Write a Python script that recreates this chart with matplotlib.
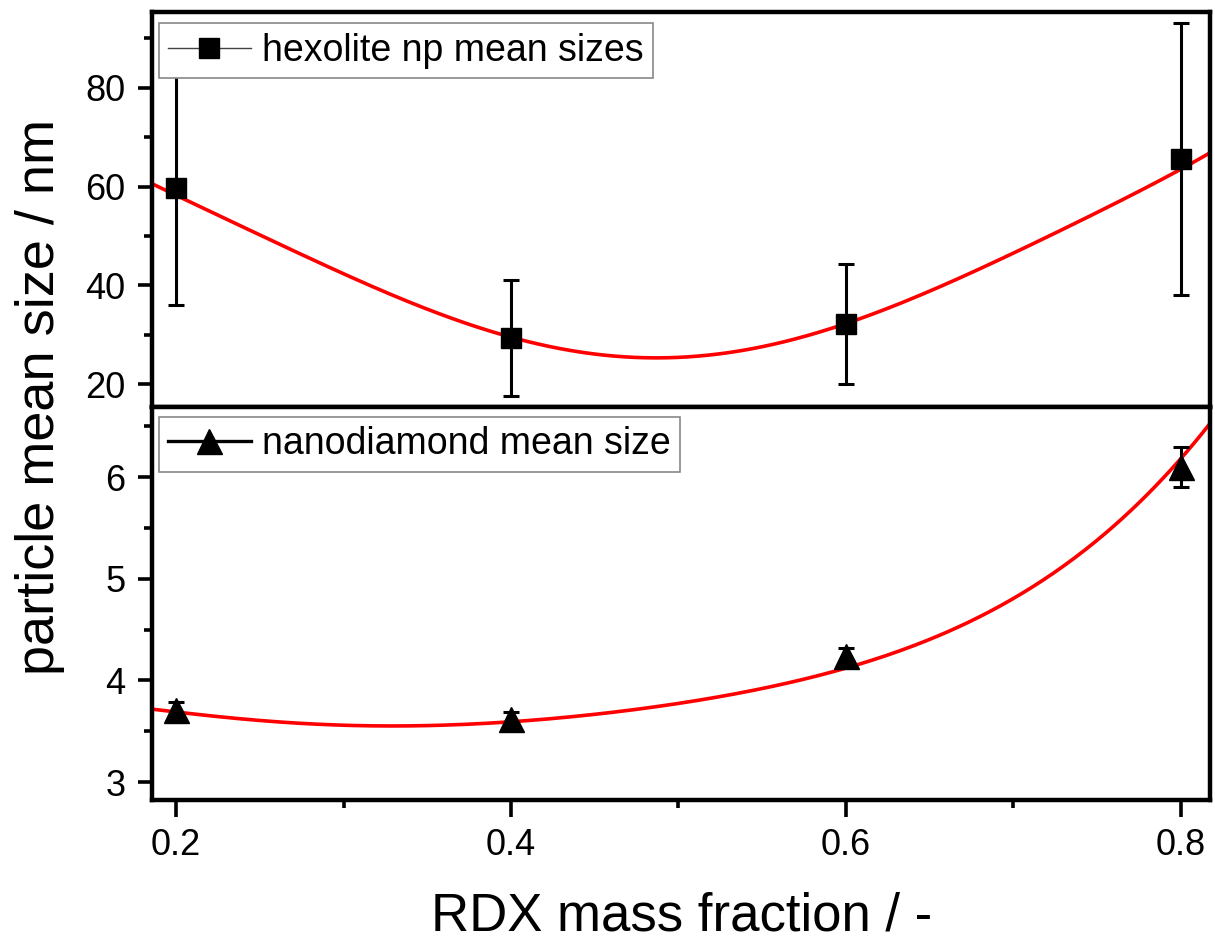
import numpy as np
import matplotlib
matplotlib.use("Agg")
import matplotlib.pyplot as plt
from matplotlib.lines import Line2D

plt.rcParams['font.family'] = ['Liberation Sans', 'DejaVu Sans']

# data
rdx = [0.2, 0.4, 0.6, 0.8]
hex_size = [59.8, 29.4, 32.2, 65.6]
hex_err = [23.8, 11.7, 12.2, 27.5]
nd_size = [3.71, 3.62, 4.24, 6.10]
nd_err = [0.08, 0.07, 0.08, 0.20]

# fitted curves
fit_x = [0.1857, 0.2, 0.225, 0.2657, 0.306, 0.347, 0.3875, 0.4, 0.428, 0.4825,
         0.529, 0.5695, 0.6025, 0.630, 0.671, 0.7117, 0.752, 0.793, 0.8, 0.8173]
hex_fit = [60.6, 58.3, 54.1, 47.6, 41.6, 35.8, 30.8, 29.4, 27.05, 25.35,
           26.4, 29.4, 32.4, 36.2, 41.9, 48.3, 55.1, 62.2, 63.9, 66.6]
nd_fit_x = [0.1857, 0.2, 0.2455, 0.306, 0.3467, 0.4, 0.448, 0.509, 0.5698,
            0.6, 0.630, 0.671, 0.7117, 0.752, 0.793, 0.8, 0.8173]
nd_fit = [3.72, 3.687, 3.605, 3.566, 3.556, 3.588, 3.655, 3.80, 4.0,
          4.13, 4.26, 4.56, 4.92, 5.41, 6.04, 6.2, 6.52]

top_label = "hexolite np mean sizes"
bot_label = "nanodiamond mean size"
xlabel = "RDX mass fraction / -"
ylabel = "particle mean size / nm"

fig = plt.figure(figsize=(12.15, 9.41), dpi=100)
L, R = 0.125, 0.996
ax_top = fig.add_axes([L, 0.5675, R - L, 0.4195])
ax_bot = fig.add_axes([L, 0.1495, R - L, 0.418], sharex=ax_top)

xlim = (0.1855, 0.8175)
xf = np.linspace(xlim[0], xlim[1], 400)

# top panel
c_top = np.polyfit(fit_x, hex_fit, 6)
ax_top.plot(xf, np.polyval(c_top, xf), color='#ff0000', lw=2.6, zorder=2)
ax_top.errorbar(rdx, hex_size, yerr=hex_err, fmt='s', color='black', ms=14,
                ecolor='black', elinewidth=2.2, capsize=6, capthick=2.2, zorder=3)
ax_top.set_ylim(15.4, 95.3)
ax_top.set_yticks([20, 40, 60, 80])
ax_top.set_yticks([30, 50, 70, 90], minor=True)

# bottom panel
c_bot = np.polyfit(nd_fit_x, nd_fit, 6)
ax_bot.plot(xf, np.polyval(c_bot, xf), color='#ff0000', lw=2.6, zorder=2)
ax_bot.errorbar(rdx, nd_size, yerr=nd_err, fmt='^', color='black', ms=18,
                ecolor='black', elinewidth=2.2, capsize=6, capthick=2.2, zorder=3)
ax_bot.set_ylim(2.82, 6.69)
ax_bot.set_yticks([3, 4, 5, 6])
ax_bot.set_yticks([3.5, 4.5, 5.5, 6.5], minor=True)

ax_bot.set_xlim(*xlim)
ax_bot.set_xticks([0.2, 0.4, 0.6, 0.8])
ax_bot.set_xticklabels(['0.2', '0.4', '0.6', '0.8'])
ax_bot.set_xticks([0.3, 0.5, 0.7], minor=True)

for ax in (ax_top, ax_bot):
    for s in ax.spines.values():
        s.set_linewidth(3.2)
    ax.tick_params(axis='y', which='major', direction='out', length=10, width=2.6,
                   labelsize=26, pad=9, right=False)
    ax.tick_params(axis='y', which='minor', direction='out', length=6, width=2.6, right=False)
    ax.tick_params(axis='x', which='both', top=False)

ax_top.tick_params(axis='x', which='both', bottom=False, labelbottom=False)
ax_bot.tick_params(axis='x', which='major', direction='out', length=12, width=2.6,
                   labelsize=26, pad=8)
ax_bot.tick_params(axis='x', which='minor', direction='out', length=6, width=2.6)

# legends
h_top = Line2D([], [], color='#444444', lw=1.0, marker='s', ms=14,
               markerfacecolor='black', markeredgecolor='black')
h_bot = Line2D([], [], color='black', lw=2.4, marker='^', ms=18,
               markerfacecolor='black', markeredgecolor='black')
for ax, h, lab, anchor in ((ax_top, h_top, top_label, (0.0066, 0.972)),
                           (ax_bot, h_bot, bot_label, (0.0066, 0.9745))):
    leg = ax.legend([h], [lab], loc='upper left', bbox_to_anchor=anchor,
                    fontsize=27, frameon=True, fancybox=False,
                    handlelength=2.2, handletextpad=0.3,
                    borderpad=0.25, borderaxespad=0.0, numpoints=1)
    fr = leg.get_frame()
    fr.set_edgecolor('#888888')
    fr.set_linewidth(1.2)
    fr.set_alpha(1)
    leg.set_zorder(5)

fig.text(0.561, 0.011, xlabel, ha='center', va='baseline', fontsize=38)
fig.text(0.033, 0.578, ylabel, ha='center', va='center', rotation=90, fontsize=39)

fig.savefig('out.png', dpi=100)
